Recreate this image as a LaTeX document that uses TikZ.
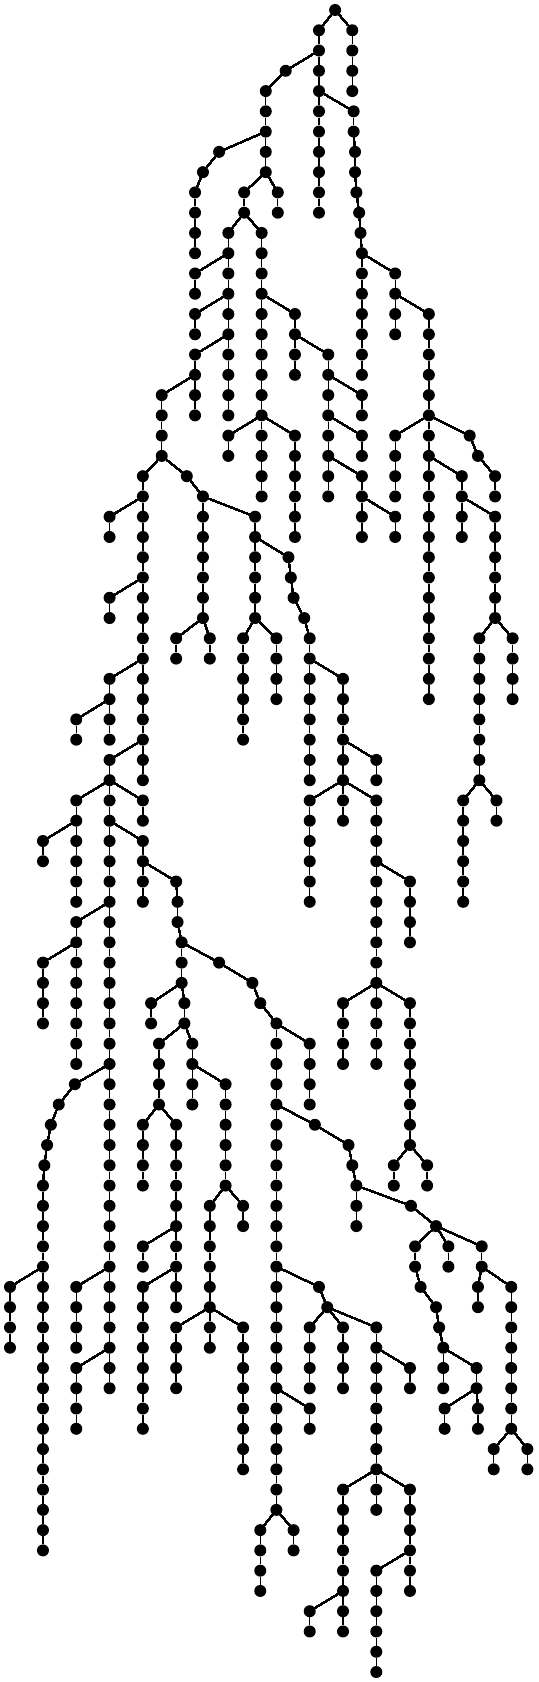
\documentclass[tikz,border=0pt]{standalone}
\usepackage{tikz}
\tikzstyle{vertex} = [circle, fill=black, inner sep=0pt, minimum size=12pt]
\tikzstyle{line} = [draw, line width=1.4pt]
% column/first level/last level of every straight run
\def\stems{977/0/0,1027/1/4,930/1/10,833/3/3,775/4/8,639/7/7,592/8/8,569/9/12,810/9/10,712/9/10,
  666/11/20,569/13/14,569/15/16,569/17/20,472/19/22,763/11/24,860/15/18,957/17/24,1055/19/20,
  1055/21/22,1055/23/26,1152/25/26,666/21/22,860/21/26,1031/5/6,1035/7/8,1039/9/9,1047/10/10,
  1051/11/11,1055/12/18,1152/13/16,1250/15/34,1152/21/24,1369/21/21,1393/22/22,1443/23/24,
  1346/23/26,1443/25/30,1494/31/34,1397/31/38,1447/39/40,1350/39/44,
  417/23/38,545/23/23,320/25/26,320/29/30,320/33/36,223/35/36,320/37/68,417/39/40,417/41/44,
  223/39/44,126/41/42,223/45/52,126/47/50,219/53/53,172/54/54,149/55/55,138/56/56,130/57/57,
  126/58/76,30/63/66,223/63/66,223/67/70,
  592/24/30,744/25/30,841/27/27,848/28/28,856/29/29,887/30/30,903/31/38,1000/33/40,1097/37/38,
  903/39/44,1097/39/52,1195/43/46,1000/49/52,1195/49/56,1148/57/58,1245/57/58,
  514/31/32,612/31/32,709/31/36,806/31/34,
  514/43/43,518/44/45,530/46/48,639/47/47,736/48/48,759/49/49,806/50/74,903/51/54,918/55/55,
  1016/56/56,1027/57/57,1039/58/60,1198/59/59,1271/60/60,1210/61/62,1307/61/62,1404/61/62,
  1226/63/63,1271/64/64,1280/65/65,1292/66/68,1389/67/68,1296/69/70,1393/69/70,1393/63/64,
  1490/63/70,1439/71/72,1537/71/72,
  441/49/50,538/49/50,464/51/54,417/55/58,514/55/64,417/61/62,417/63/70,561/51/54,658/53/58,
  709/59/60,612/59/66,514/65/68,709/65/72,
  930/63/63,954/64/64,903/65/68,1000/65/68,1097/65/74,1195/67/68,903/69/70,
  759/75/78,856/75/76,1000/73/80,903/79/80,1195/73/78,1097/77/82}
\begin{document}
\begin{tikzpicture}[x=0.3433pt, y=-20.268pt]
    \useasboundingbox (0.87,-0.4934) rectangle (1568,82.4934);
    % Place nodes
    \foreach \col/\first/\last in \stems
        \foreach \lev in {\first,...,\last}
            \node [vertex] (n\col-\lev) at (\col,\lev) {};
    % Draw edges
    \foreach \col/\first/\last in \stems
        \foreach \lev [remember=\lev as \prev (initially \first)] in {\first,...,\last} {
            \ifnum\lev>\first \path [line] (n\col-\prev) -- (n\col-\lev); \fi
        }
    \foreach \from/\to in {977-0/930-1,977-0/1027-1,930-2/833-3,833-3/775-4,775-6/639-7,639-7/592-8,
        592-8/569-9,775-8/712-9,775-8/810-9,712-10/666-11,712-10/763-11,666-12/569-13,666-14/569-15,
        666-16/569-17,569-18/472-19,763-14/860-15,860-16/957-17,957-18/1055-19,957-20/1055-21,
        957-22/1055-23,1055-24/1152-25,763-20/666-21,763-20/860-21,
        930-4/1031-5,1031-6/1035-7,1035-8/1039-9,1039-9/1047-10,1047-10/1051-11,1051-11/1055-12,
        1055-12/1152-13,1152-14/1250-15,1250-20/1152-21,1250-20/1369-21,1369-21/1393-22,
        1393-22/1443-23,1250-22/1346-23,1346-24/1443-25,1443-30/1397-31,1443-30/1494-31,
        1397-38/1350-39,1397-38/1447-39,
        472-22/417-23,472-22/545-23,545-23/592-24,417-24/320-25,417-28/320-29,417-32/320-33,
        320-34/223-35,417-36/320-37,320-38/223-39,320-38/417-39,320-40/417-41,223-40/126-41,
        320-44/223-45,223-46/126-47,320-52/219-53,219-53/172-54,172-54/149-55,149-55/138-56,
        138-56/130-57,130-57/126-58,126-62/30-63,320-62/223-63,320-66/223-67,
        592-24/744-25,744-26/841-27,841-27/848-28,848-28/856-29,856-29/887-30,887-30/903-31,
        903-32/1000-33,1000-36/1097-37,1000-38/903-39,1000-38/1097-39,1097-42/1195-43,
        1097-48/1000-49,1097-48/1195-49,1195-56/1148-57,1195-56/1245-57,
        592-30/514-31,592-30/612-31,744-30/709-31,744-30/806-31,
        417-42/514-43,514-43/518-44,518-45/530-46,530-46/639-47,639-47/736-48,736-48/759-49,
        759-49/806-50,806-50/903-51,806-54/918-55,918-55/1016-56,1016-56/1027-57,1027-57/1039-58,
        1039-58/1198-59,1198-59/1271-60,1271-60/1210-61,1271-60/1307-61,1271-60/1404-61,
        1210-62/1226-63,1226-63/1271-64,1271-64/1280-65,1280-65/1292-66,1292-66/1389-67,
        1389-68/1296-69,1389-68/1393-69,1404-62/1393-63,1404-62/1490-63,1490-70/1439-71,1490-70/1537-71,
        530-48/441-49,530-48/538-49,538-50/464-51,538-50/561-51,464-54/417-55,464-54/514-55,
        514-60/417-61,514-62/417-63,561-52/658-53,658-58/612-59,658-58/709-59,612-64/514-65,
        612-64/709-65,806-62/930-63,930-63/954-64,954-64/903-65,954-64/1000-65,954-64/1097-65,
        1097-66/1195-67,806-68/903-69,806-74/759-75,806-74/856-75,1097-72/1000-73,1097-72/1195-73,
        1000-78/903-79,1195-76/1097-77}
        \path [line] (n\from) -- (n\to);
\end{tikzpicture}
\end{document}
